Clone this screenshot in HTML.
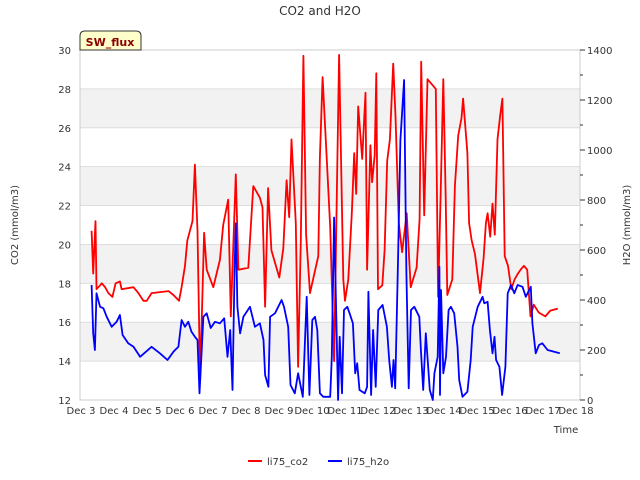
<!DOCTYPE html>
<html><head><meta charset="utf-8"><style>
body{margin:0;background:#fff;}
svg{display:block;font-family:"DejaVu Sans","Liberation Sans",sans-serif;}
</style></head><body>
<svg id="chart" width="640" height="480" viewBox="0 0 640 480" xmlns="http://www.w3.org/2000/svg">
<text x="320" y="15" text-anchor="middle" font-size="12" fill="#333">CO2 and H2O</text>
<g id="bands"></g>
<g id="grid"></g>
<rect x="80" y="50" width="500" height="350" fill="none" stroke="#ccc"/>
<g id="series"></g>
<g id="axes"></g>
<text transform="translate(18,225) rotate(-90)" text-anchor="middle" font-size="10" fill="#333">CO2 (mmol/m3)</text>
<text transform="translate(630,225) rotate(-90)" text-anchor="middle" font-size="10" fill="#333">H2O (mmol/m3)</text>
<text x="566" y="433" text-anchor="middle" font-size="10" fill="#333">Time</text>
<g>
<path d="M80,50 L80,36 Q80,31 85,31 L136,31 Q141,31 141,36 L141,50 Z" fill="#ffffcc" stroke="#333" stroke-width="1"/>
<text x="110" y="46" text-anchor="middle" font-size="11" font-weight="bold" fill="#8b0000">SW_flux</text>
</g>
<g>
<g><line x1="248" y1="461" x2="262" y2="461" stroke="#f00" stroke-width="2"/><text x="267" y="465" font-size="10" fill="#333">li75_co2</text></g>
<g><line x1="328" y1="461" x2="342" y2="461" stroke="#00f" stroke-width="2"/><text x="347" y="465" font-size="10" fill="#333">li75_h2o</text></g>
</g>
</svg>
<script>
const xTickLabels=["Dec 3","Dec 4","Dec 5","Dec 6","Dec 7","Dec 8","Dec 9","Dec 10","Dec 11","Dec 12","Dec 13","Dec 14","Dec 15","Dec 16","Dec 17","Dec 18"];
const co2Ticks=[12,14,16,18,20,22,24,26,28,30];
const h2oTicks=[0,200,400,600,800,1000,1200,1400];
const co2Time=[3.32,3.37,3.44,3.47,3.58,3.63,3.73,3.83,3.95,4.05,4.18,4.23,4.59,4.74,4.89,4.99,5.14,5.65,5.80,5.97,6.05,6.15,6.22,6.30,6.38,6.45,6.53,6.61,6.73,6.81,7.01,7.21,7.31,7.46,7.54,7.69,7.77,8.07,8.22,8.42,8.50,8.58,8.67,8.77,9.01,9.13,9.23,9.31,9.38,9.51,9.58,9.66,9.74,9.82,9.94,10.19,10.24,10.32,10.55,10.67,10.82,10.95,11.00,11.10,11.21,11.28,11.34,11.40,11.52,11.62,11.67,11.77,11.82,11.90,11.95,12.00,12.13,12.20,12.28,12.36,12.46,12.53,12.63,12.73,12.87,12.99,13.17,13.26,13.31,13.40,13.50,13.75,13.82,13.90,13.98,14.05,14.10,14.25,14.33,14.43,14.53,14.58,14.71,14.76,14.84,14.94,15.09,15.20,15.27,15.32,15.40,15.47,15.54,15.62,15.70,15.77,15.84,15.94,16.04,16.14,16.24,16.32,16.42,16.52,16.62,16.72,16.87,17.07,17.22,17.45];
const co2Values=[20.7,18.5,21.2,17.7,17.9,18.0,17.8,17.5,17.3,18.0,18.1,17.7,17.8,17.5,17.1,17.1,17.5,17.6,17.4,17.1,17.8,18.9,20.2,20.7,21.2,24.1,20.7,13.0,20.6,18.7,17.8,19.2,21.0,22.3,16.3,23.6,18.7,18.8,23.0,22.4,21.9,16.8,22.9,19.7,18.3,19.8,23.3,21.4,25.4,21.1,13.7,20.2,29.7,20.5,17.5,19.4,24.5,28.6,20.9,14.0,29.75,18.2,17.1,18.2,21.7,24.7,22.6,27.1,24.4,27.8,18.7,25.1,23.2,24.6,28.8,17.7,17.9,19.7,24.3,25.4,29.3,26.6,21.1,19.6,21.6,17.8,18.8,21.3,29.4,21.5,28.5,28.0,17.3,22.7,28.5,22.4,17.4,18.2,23.0,25.6,26.5,27.5,24.7,21.1,20.2,19.5,17.5,19.3,21.1,21.6,20.4,22.1,20.5,25.4,26.6,27.5,19.4,18.9,17.7,18.2,18.5,18.7,18.9,18.7,16.3,16.9,16.5,16.3,16.6,16.7];
const h2oTime=[3.32,3.37,3.42,3.47,3.58,3.68,3.78,3.93,4.08,4.18,4.26,4.43,4.59,4.79,5.14,5.39,5.62,5.80,5.95,6.05,6.15,6.25,6.35,6.45,6.53,6.59,6.71,6.81,6.93,7.06,7.21,7.34,7.44,7.52,7.59,7.65,7.69,7.74,7.82,7.92,8.12,8.27,8.42,8.53,8.58,8.68,8.73,8.88,9.08,9.15,9.28,9.35,9.48,9.58,9.72,9.84,9.92,10.01,10.09,10.16,10.24,10.34,10.55,10.60,10.67,10.79,10.84,10.91,10.97,11.07,11.14,11.24,11.31,11.37,11.44,11.60,11.67,11.71,11.79,11.85,11.93,12.01,12.14,12.27,12.34,12.42,12.47,12.52,12.61,12.68,12.79,12.86,12.93,13.00,13.10,13.25,13.30,13.37,13.45,13.57,13.66,13.71,13.81,13.86,13.88,13.91,13.98,14.06,14.14,14.21,14.31,14.41,14.46,14.56,14.71,14.81,14.87,15.02,15.17,15.22,15.32,15.39,15.47,15.53,15.58,15.68,15.76,15.86,15.93,16.03,16.13,16.23,16.38,16.48,16.63,16.68,16.78,16.88,16.98,17.14,17.34,17.51];
const h2oValues=[460,267,200,427,373,367,333,293,313,340,260,227,213,173,213,187,160,193,213,320,293,313,273,253,240,27,333,347,288,313,307,327,173,280,40,507,707,373,267,333,373,293,307,240,100,53,333,347,400,373,293,60,27,107,13,413,20,320,333,280,27,13,13,173,730,0,253,27,360,373,347,307,107,147,40,27,53,433,20,280,53,360,380,293,160,53,160,47,573,1040,1280,507,47,360,373,333,200,40,267,40,0,107,173,533,20,440,107,173,360,373,347,213,80,13,33,160,293,373,413,387,393,280,187,253,160,133,20,133,427,460,427,460,453,413,453,307,187,220,227,200,193,187];

const NS="http://www.w3.org/2000/svg";
const L=80,R=580,T=50,B=400;
function xScale(d){return 81+(d-3)*33;}
function yCo2(v){return B-(v-12)/18*(B-T);}
function yH2o(v){return B-v/1400*(B-T);}
function mk(tag,attrs,parent){const e=document.createElementNS(NS,tag);for(const k in attrs)e.setAttribute(k,attrs[k]);parent.appendChild(e);return e;}
const bands=document.getElementById('bands'),grid=document.getElementById('grid'),axes=document.getElementById('axes'),series=document.getElementById('series');
for(let i=0;i<co2Ticks.length-1;i++){
  if(i%2===1){const r=mk('rect',{x:L,y:yCo2(co2Ticks[i+1]),width:R-L,height:yCo2(co2Ticks[i])-yCo2(co2Ticks[i+1]),fill:'#f2f2f2'},bands);
  
  }
}
co2Ticks.forEach(v=>{
  const y=yCo2(v);
  const g=mk('line',{x1:L,x2:R,y1:y,y2:y,stroke:'#ddd'},grid);
  
  
  const t=mk('text',{x:71,y:y+4,'text-anchor':'end','font-size':'10',fill:'#333'},axes);t.textContent=v;
  
  
});
h2oTicks.forEach((v,i)=>{
  const y=yH2o(v);
  mk('line',{x1:R,x2:R+5,y1:y,y2:y,stroke:'#333'},axes);
  if(i<h2oTicks.length-1){const ym=yH2o(v+100);mk('line',{x1:R,x2:R+3,y1:ym,y2:ym,stroke:'#333'},axes);}
  const t=mk('text',{x:587,y:y+4,'font-size':'10',fill:'#333'},axes);t.textContent=v;
  
  
});
xTickLabels.forEach((s,i)=>{
  const x=xScale(3+i);
  const t=mk('text',{x:x,y:414,'text-anchor':'middle','font-size':'10',fill:'#333'},axes);t.textContent=s;
  
  
});
function line(times,vals,yf,color,name){
  const d=times.map((t,i)=>(i?'L':'M')+xScale(t).toFixed(1)+','+yf(vals[i]).toFixed(1)).join('');
  const p=mk('path',{d:d,fill:'none',stroke:color,'stroke-width':'1.8','stroke-linejoin':'round'},series);
  
  
}
line(co2Time,co2Values,yCo2,'#ff0000','co2-line');
line(h2oTime,h2oValues,yH2o,'#0000ff','h2o-line');
</script>
</body></html>
